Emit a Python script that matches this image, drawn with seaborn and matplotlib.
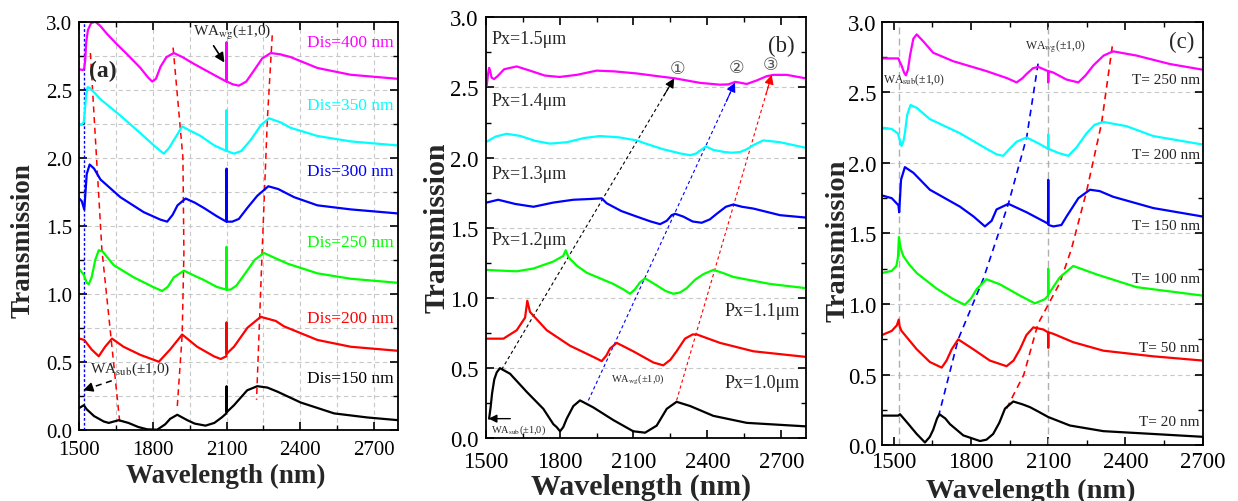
import numpy as np
import pandas as pd
import matplotlib
matplotlib.use("Agg")
import matplotlib.pyplot as plt
from matplotlib.ticker import MultipleLocator
import seaborn as sns

# ---------------- data: (wavelength nm, transmission) ----------------
# panel (a): distance sweep
a_dis400 = [(1500, 2.65), (1515, 2.645), (1520, 2.66), (1524, 2.72), (1528, 2.85), (1535, 2.94), (1548, 2.99),
            (1565, 3.0), (1585, 2.97), (1613, 2.91), (1650, 2.84), (1695, 2.76), (1749, 2.66), (1780, 2.59),
            (1797, 2.56), (1812, 2.58), (1831, 2.67), (1855, 2.74), (1885, 2.77), (1920, 2.74), (1967, 2.69),
            (2048, 2.61), (2099, 2.56), (2100, 2.85), (2101, 2.56), (2125, 2.54), (2150, 2.53), (2180, 2.56),
            (2211, 2.64), (2245, 2.73), (2280, 2.77), (2320, 2.76), (2361, 2.74), (2470, 2.66), (2606, 2.61),
            (2800, 2.58)]
a_dis350 = [(1500, 2.24), (1510, 2.245), (1518, 2.26), (1522, 2.34), (1527, 2.45), (1534, 2.52), (1545, 2.51),
            (1586, 2.43), (1667, 2.31), (1749, 2.18), (1810, 2.08), (1844, 2.03), (1865, 2.07), (1885, 2.13),
            (1919, 2.23), (1950, 2.20), (1994, 2.16), (2050, 2.09), (2099, 2.05), (2100, 2.35), (2101, 2.05),
            (2130, 2.03), (2160, 2.05), (2198, 2.13), (2240, 2.24), (2273, 2.29), (2320, 2.26), (2361, 2.22),
            (2470, 2.16), (2606, 2.12), (2800, 2.09)]
a_dis300 = [(1500, 1.70), (1510, 1.68), (1520, 1.62), (1524, 1.72), (1530, 1.88), (1542, 1.95), (1560, 1.92),
            (1586, 1.84), (1667, 1.71), (1762, 1.60), (1830, 1.545), (1858, 1.53), (1880, 1.58), (1900, 1.65),
            (1933, 1.70), (1970, 1.67), (2008, 1.63), (2060, 1.57), (2099, 1.53), (2100, 1.92), (2101, 1.53),
            (2123, 1.53), (2150, 1.55), (2184, 1.63), (2225, 1.72), (2270, 1.79), (2310, 1.77), (2375, 1.71),
            (2470, 1.65), (2606, 1.62), (2800, 1.59)]
a_dis250 = [(1500, 1.18), (1518, 1.14), (1530, 1.08), (1538, 1.07), (1550, 1.12), (1565, 1.25), (1579, 1.32),
            (1595, 1.31), (1640, 1.21), (1722, 1.12), (1800, 1.05), (1837, 1.02), (1860, 1.05), (1885, 1.12),
            (1926, 1.17), (1960, 1.14), (2008, 1.10), (2060, 1.05), (2099, 1.03), (2100, 1.345), (2101, 1.03),
            (2116, 1.03), (2140, 1.06), (2180, 1.16), (2215, 1.25), (2252, 1.30), (2300, 1.26), (2350, 1.22),
            (2470, 1.15), (2606, 1.11), (2800, 1.08)]
a_dis200 = [(1500, 0.67), (1520, 0.66), (1550, 0.59), (1579, 0.54), (1605, 0.61), (1633, 0.67), (1680, 0.61),
            (1749, 0.55), (1824, 0.50), (1870, 0.59), (1919, 0.70), (1980, 0.61), (2048, 0.54), (2076, 0.52),
            (2099, 0.54), (2100, 0.79), (2101, 0.56), (2130, 0.61), (2185, 0.75), (2239, 0.83), (2300, 0.80),
            (2334, 0.76), (2470, 0.66), (2606, 0.61), (2800, 0.58)]
a_dis150 = [(1500, 0.16), (1518, 0.18), (1530, 0.15), (1560, 0.10), (1600, 0.06), (1620, 0.05), (1640, 0.06),
            (1660, 0.07), (1700, 0.05), (1740, 0.02), (1776, 0.003), (1817, 0.0), (1850, 0.04), (1870, 0.08),
            (1899, 0.11), (1940, 0.07), (1970, 0.045), (2014, 0.03), (2050, 0.05), (2080, 0.09), (2099, 0.12),
            (2100, 0.32), (2101, 0.13), (2130, 0.18), (2184, 0.29), (2225, 0.32), (2266, 0.31), (2307, 0.28),
            (2402, 0.20), (2538, 0.12), (2674, 0.09), (2800, 0.07)]
a_labels = ["Dis=400 nm", "Dis=350 nm", "Dis=300 nm", "Dis=250 nm", "Dis=200 nm", "Dis=150 nm"]
a_label_y = [2.85, 2.385, 1.90, 1.38, 0.82, 0.38]
a_guides = [[(1545, 2.77), (1592, 1.32), (1665, 0.05)],
            [(1882, 2.81), (1922, 2.0), (1926, 1.3), (1919, 0.70), (1899, 0.17)],
            [(2286, 2.90), (2266, 2.28), (2245, 1.32), (2222, 0.22)]]

# panel (b): period sweep
b_px15 = [(1504, 2.51), (1510, 2.60), (1514, 2.64), (1518, 2.62), (1524, 2.57), (1534, 2.56), (1548, 2.58),
          (1575, 2.63), (1626, 2.65), (1680, 2.62), (1740, 2.585), (1800, 2.575), (1870, 2.59), (1950, 2.62),
          (2020, 2.615), (2113, 2.60), (2200, 2.58), (2269, 2.565), (2370, 2.533), (2450, 2.52), (2485, 2.522),
          (2505, 2.535), (2512, 2.54), (2530, 2.535), (2560, 2.525), (2600, 2.55), (2640, 2.58), (2668, 2.59),
          (2722, 2.59), (2800, 2.565)]
b_px14 = [(1500, 2.11), (1540, 2.15), (1585, 2.17), (1640, 2.155), (1700, 2.12), (1761, 2.10), (1830, 2.11),
          (1900, 2.14), (1964, 2.154), (2040, 2.145), (2113, 2.123), (2150, 2.10), (2220, 2.06), (2290, 2.03),
          (2330, 2.017), (2355, 2.03), (2370, 2.05), (2394, 2.08), (2424, 2.055), (2470, 2.04), (2500, 2.035),
          (2532, 2.04), (2560, 2.06), (2587, 2.09), (2627, 2.123), (2695, 2.11), (2800, 2.07)]
b_px13 = [(1504, 1.68), (1551, 1.70), (1620, 1.67), (1694, 1.65), (1775, 1.68), (1856, 1.70), (1920, 1.705),
          (1971, 1.71), (1991, 1.675), (2050, 1.62), (2113, 1.58), (2170, 1.545), (2208, 1.526), (2235, 1.55),
          (2255, 1.59), (2269, 1.60), (2302, 1.58), (2340, 1.545), (2377, 1.536), (2410, 1.56), (2438, 1.60),
          (2475, 1.65), (2505, 1.666), (2540, 1.65), (2587, 1.637), (2695, 1.59), (2800, 1.573)]
b_px12 = [(1504, 1.20), (1560, 1.195), (1626, 1.19), (1694, 1.21), (1775, 1.26), (1815, 1.30), (1825, 1.34),
          (1836, 1.29), (1870, 1.23), (1910, 1.18), (2018, 1.10), (2060, 1.06), (2086, 1.03), (2105, 1.06),
          (2126, 1.11), (2147, 1.14), (2194, 1.09), (2230, 1.05), (2262, 1.03), (2290, 1.04), (2316, 1.07),
          (2350, 1.13), (2384, 1.17), (2424, 1.20), (2460, 1.18), (2505, 1.15), (2654, 1.10), (2800, 1.07)]
b_px11 = [(1504, 0.71), (1572, 0.71), (1626, 0.77), (1660, 0.86), (1669, 0.98), (1680, 0.90), (1748, 0.77),
          (1842, 0.66), (1937, 0.58), (1971, 0.55), (1990, 0.59), (2005, 0.64), (2032, 0.68), (2099, 0.62),
          (2181, 0.54), (2221, 0.52), (2250, 0.56), (2275, 0.62), (2309, 0.71), (2340, 0.74), (2357, 0.74),
          (2451, 0.68), (2587, 0.62), (2800, 0.58)]
b_px10 = [(1514, 0.14), (1520, 0.22), (1526, 0.32), (1535, 0.42), (1545, 0.47), (1558, 0.50), (1599, 0.46),
          (1667, 0.33), (1734, 0.21), (1775, 0.10), (1788, 0.08), (1802, 0.05), (1815, 0.08), (1829, 0.14),
          (1856, 0.23), (1883, 0.27), (1937, 0.22), (2018, 0.13), (2099, 0.05), (2147, 0.04), (2194, 0.09),
          (2235, 0.21), (2275, 0.26), (2330, 0.23), (2424, 0.16), (2560, 0.11), (2800, 0.085)]
b_labels = ["Px=1.5\u03bcm", "Px=1.4\u03bcm", "Px=1.3\u03bcm", "Px=1.2\u03bcm", "Px=1.1\u03bcm", "Px=1.0\u03bcm"]
b_label_y = [2.85, 2.41, 1.89, 1.42, 0.91, 0.40]
b_guides = [[(1565, 0.49), (2265, 2.565)], [(1917, 0.27), (2512, 2.535)], [(2275, 0.27), (2661, 2.59)]]
b_marks = ["\u2460", "\u2461", "\u2462"]
b_mark_pos = [(2280, 2.64), (2518, 2.643), (2656, 2.67)]

# panel (c): thickness sweep
c_t250 = [(1453, 2.74), (1518, 2.74), (1522, 2.72), (1530, 2.69), (1540, 2.64), (1547, 2.62), (1555, 2.66),
          (1563, 2.76), (1576, 2.88), (1589, 2.91), (1615, 2.86), (1653, 2.78), (1731, 2.72), (1860, 2.65),
          (1940, 2.60), (1977, 2.57), (2000, 2.60), (2016, 2.63), (2040, 2.67), (2061, 2.68), (2099, 2.65),
          (2100, 2.57), (2101, 2.65), (2119, 2.64), (2171, 2.59), (2217, 2.57), (2245, 2.62), (2275, 2.69),
          (2315, 2.76), (2352, 2.79), (2443, 2.76), (2573, 2.70), (2700, 2.66)]
c_t200 = [(1453, 2.25), (1492, 2.24), (1515, 2.21), (1522, 2.17), (1530, 2.12), (1537, 2.15), (1543, 2.21),
          (1552, 2.34), (1565, 2.41), (1589, 2.39), (1640, 2.31), (1757, 2.21), (1860, 2.10), (1900, 2.06),
          (1925, 2.05), (1950, 2.10), (1977, 2.15), (2016, 2.18), (2060, 2.14), (2099, 2.10), (2100, 2.20),
          (2101, 2.10), (2140, 2.07), (2178, 2.05), (2210, 2.11), (2249, 2.21), (2280, 2.27), (2314, 2.29),
          (2404, 2.26), (2508, 2.19), (2700, 2.13)]
c_t150 = [(1453, 1.77), (1492, 1.75), (1518, 1.70), (1521, 1.65), (1528, 1.88), (1543, 1.97), (1576, 1.93),
          (1640, 1.81), (1757, 1.69), (1810, 1.62), (1854, 1.55), (1880, 1.59), (1899, 1.67), (1945, 1.71),
          (2016, 1.65), (2099, 1.57), (2100, 1.88), (2101, 1.56), (2120, 1.55), (2151, 1.56), (2171, 1.62),
          (2217, 1.75), (2262, 1.81), (2300, 1.80), (2352, 1.76), (2508, 1.68), (2700, 1.62)]
c_t100 = [(1453, 1.22), (1492, 1.235), (1510, 1.27), (1516, 1.33), (1520, 1.475), (1526, 1.40), (1537, 1.34),
          (1560, 1.28), (1589, 1.22), (1666, 1.11), (1731, 1.035), (1776, 0.995), (1800, 1.04), (1822, 1.106),
          (1860, 1.176), (1912, 1.14), (1990, 1.06), (2048, 1.005), (2087, 1.035), (2099, 1.06), (2100, 1.25),
          (2101, 1.07), (2119, 1.12), (2145, 1.19), (2197, 1.27), (2288, 1.21), (2443, 1.12), (2700, 1.06)]
c_t50 = [(1453, 0.78), (1492, 0.81), (1512, 0.85), (1519, 0.89), (1523, 0.84), (1530, 0.81), (1589, 0.68),
         (1640, 0.59), (1686, 0.55), (1705, 0.60), (1725, 0.68), (1750, 0.75), (1809, 0.68), (1873, 0.60),
         (1938, 0.56), (1965, 0.60), (1990, 0.68), (2015, 0.78), (2042, 0.835), (2081, 0.82), (2099, 0.80),
         (2100, 0.69), (2101, 0.80), (2119, 0.79), (2197, 0.73), (2314, 0.67), (2508, 0.63), (2700, 0.60)]
c_t20 = [(1453, 0.21), (1517, 0.21), (1524, 0.22), (1550, 0.165), (1589, 0.08), (1621, 0.02), (1640, 0.06),
         (1653, 0.11), (1668, 0.19), (1677, 0.22), (1700, 0.19), (1718, 0.15), (1770, 0.07), (1835, 0.03),
         (1860, 0.04), (1886, 0.08), (1910, 0.16), (1932, 0.26), (1964, 0.31), (2000, 0.29), (2029, 0.27),
         (2060, 0.24), (2100, 0.20), (2184, 0.14), (2314, 0.10), (2508, 0.08), (2700, 0.06)]
c_labels = ["T= 250 nm", "T= 200 nm", "T= 150 nm", "T= 100 nm", "T= 50 nm", "T= 20 nm"]
c_label_y = [2.59, 2.06, 1.56, 1.18, 0.69, 0.17]
c_guides = [[(1673, 0.20), (1750, 0.75), (1848, 1.18), (1945, 1.71), (2016, 2.18), (2061, 2.71)],
            [(1938, 0.26), (2005, 0.50), (2060, 0.86), (2145, 1.15), (2190, 1.39), (2249, 1.80),
             (2307, 2.28), (2349, 2.83)]]

colors = ["#ff00ff", "#00ffff", "#0000ff", "#00ff00", "#ff0000", "#000000"]

# ---------------- style ----------------
sns.set_theme(style="ticks")
plt.rcParams.update({
    "font.family": ["Liberation Serif", "DejaVu Serif"],
    "mathtext.fontset": "stix",
    "axes.linewidth": 1.3,
    "xtick.direction": "in",
    "ytick.direction": "in",
    "xtick.top": True,
    "ytick.right": True,
    "xtick.major.size": 6,
    "ytick.major.size": 6,
    "xtick.minor.size": 3.5,
    "ytick.minor.size": 3.5,
    "xtick.major.width": 1.2,
    "ytick.major.width": 1.2,
    "xtick.minor.width": 1.0,
    "ytick.minor.width": 1.0,
    "xtick.color": "black",
    "ytick.color": "black",
    "axes.edgecolor": "black",
})


def curves_frame(curves, labels):
    rows = []
    for pts, lab in zip(curves, labels):
        for wl, t in pts:
            rows.append((wl, t, lab))
    return pd.DataFrame(rows, columns=["wl", "T", "curve"])


def draw_curves(ax, curves, labels):
    df = curves_frame(curves, labels)
    sns.lineplot(data=df, x="wl", y="T", hue="curve", palette=dict(zip(labels, colors)),
                 estimator=None, sort=False, legend=False, linewidth=1.6, ax=ax)


def style_axes(ax, xlim, tick_size, label_size, ylab_xy, xlab_xy, xpad=5, ypad=5):
    ax.set_xlim(*xlim)
    ax.set_ylim(0, 3.0)
    ax.xaxis.set_major_locator(MultipleLocator(300))
    ax.xaxis.set_minor_locator(MultipleLocator(150))
    ax.yaxis.set_major_locator(MultipleLocator(0.5))
    ax.yaxis.set_minor_locator(MultipleLocator(0.25))
    ax.yaxis.set_major_formatter(plt.FormatStrFormatter("%.1f"))
    ax.tick_params(which="both", top=True, right=True, direction="in")
    ax.tick_params(axis="x", which="major", labelsize=tick_size, pad=xpad)
    ax.tick_params(axis="y", which="major", labelsize=tick_size, pad=ypad)
    ax.set_xlabel("Wavelength (nm)", fontsize=label_size, fontweight="bold")
    ax.set_ylabel("Transmission", fontsize=label_size, fontweight="bold")
    ax.xaxis.label.set_verticalalignment("center")
    ax.yaxis.label.set_verticalalignment("center")
    ax.yaxis.set_label_coords(*ylab_xy)
    ax.xaxis.set_label_coords(*xlab_xy)
    for s in ax.spines.values():
        s.set_linewidth(1.3)


fig = plt.figure(figsize=(12.38, 5.02), dpi=100)
ax_a = fig.add_axes([0.0641, 0.1420, 0.2577, 0.8127])
ax_b = fig.add_axes([0.3923, 0.1249, 0.2587, 0.8386])
ax_c = fig.add_axes([0.7122, 0.1110, 0.2593, 0.8438])

grid_kw = dict(color="#c8c8c8", linestyle=(0, (4, 3)), linewidth=0.8)

# ---------------- panel (a) ----------------
ax = ax_a
style_axes(ax, (1500, 2800), 15, 19.5, (-0.176, 0.465), (0.46, -0.113), xpad=7.6, ypad=5)
ax.grid(True, which="both", **grid_kw)
ax.set_axisbelow(True)
ax.axvline(1520, color="#0000ff", linestyle=(0, (2, 1.5)), linewidth=1.0)
for g in a_guides:
    gx, gy = zip(*g)
    ax.plot(gx, gy, color="#ff0000", linestyle=(0, (4, 3)), linewidth=1.1)
draw_curves(ax, [a_dis400, a_dis350, a_dis300, a_dis250, a_dis200, a_dis150], a_labels)
for lab, y, c in zip(a_labels, a_label_y, colors):
    ax.text(2780, y, lab, color=c, fontsize=12.5, ha="right", va="center")
ax.text(1597, 2.64, "(a)", fontsize=17, fontweight="bold", ha="center", va="center")
ax.text(2124, 2.93, "WA$_{\\rm wg}$(\u00b11,0)", fontsize=11, ha="center", va="center")
ax.annotate("", xy=(2091, 2.70), xytext=(2047, 2.823),
            arrowprops=dict(arrowstyle="-|>", color="black", lw=1.2, mutation_scale=14, shrinkA=0, shrinkB=0))
ax.text(1544, 0.454, "WA$_{\\rm sub}$(\u00b11,0)", fontsize=11, ha="left", va="center")
ax.plot([1632, 1540], [0.36, 0.305], color="black", linestyle=(0, (4, 3)), linewidth=1.1)
ax.annotate("", xy=(1516, 0.29), xytext=(1545, 0.308),
            arrowprops=dict(arrowstyle="-|>", color="black", lw=1.1, mutation_scale=14, shrinkA=0, shrinkB=0))

# ---------------- panel (b) ----------------
ax = ax_b
style_axes(ax, (1500, 2800), 16.5, 21.5, (-0.152, 0.503), (0.486, -0.1145), xpad=8.8, ypad=5)
ax.yaxis.grid(True, which="major", **grid_kw)
ax.set_axisbelow(True)
guide_cols = ["#000000", "#0000ff", "#ff0000"]
for g, c in zip(b_guides, guide_cols):
    (x0, y0), (x1, y1) = g
    ax.plot([x0, x1], [y0, y1], color=c, linestyle=(0, (3, 2.5)), linewidth=0.8)
    ax.annotate("", xy=(x1, y1), xytext=(x1 - 0.06 * (x1 - x0), y1 - 0.06 * (y1 - y0)),
                arrowprops=dict(arrowstyle="-|>", color=c, lw=0.8, mutation_scale=14, shrinkA=0, shrinkB=0))
draw_curves(ax, [b_px15, b_px14, b_px13, b_px12, b_px11, b_px10], b_labels)
for lab, y in zip(b_labels[:4], b_label_y[:4]):
    ax.text(1524, y, lab, fontsize=13, ha="left", va="center")
for lab, y in zip(b_labels[4:], b_label_y[4:]):
    ax.text(2776, y, lab, fontsize=13, ha="right", va="center")
for m, (mx, my) in zip(b_marks, b_mark_pos):
    ax.text(mx, my, m, fontsize=12.5, color="#555555", ha="center", va="center",
            family=["DejaVu Sans", "Noto Sans CJK SC"])
ax.text(2702, 2.80, "(b)", fontsize=16.5, ha="center", va="center")
ax.text(2007, 0.43, "WA$_{\\rm wg}$(\u00b11,0)", fontsize=7.5, ha="left", va="center")
ax.text(1522, 0.067, "WA$_{\\rm sub}$(\u00b11,0)", fontsize=7.5, ha="left", va="center")
ax.annotate("", xy=(1512, 0.14), xytext=(1600, 0.14),
            arrowprops=dict(arrowstyle="-|>", color="black", lw=1.0, mutation_scale=12, shrinkA=0, shrinkB=0))

# ---------------- panel (c) ----------------
ax = ax_c
style_axes(ax, (1453, 2700), 16.5, 20.5, (-0.136, 0.485), (0.465, -0.106), xpad=4, ypad=4)
ax.yaxis.grid(True, which="major", **grid_kw)
ax.set_axisbelow(True)
for xv in (1520, 2100):
    ax.axvline(xv, color="#b0b0b0", linestyle=(0, (5, 3)), linewidth=1.0)
for g, c in zip(c_guides, ["#0000ff", "#ff0000"]):
    gx, gy = zip(*g)
    ax.plot(gx, gy, color=c, linestyle=(0, (4, 3)), linewidth=1.2)
draw_curves(ax, [c_t250, c_t200, c_t150, c_t100, c_t50, c_t20], c_labels)
for lab, y in zip(c_labels, c_label_y):
    ax.text(2689, y, lab, fontsize=11, ha="right", va="center")
ax.text(2618, 2.86, "(c)", fontsize=16.5, ha="center", va="center")
ax.text(2009, 2.83, "WA$_{\\rm wg}$(\u00b11,0)", fontsize=8.5, ha="left", va="center")
ax.text(1459, 2.59, "WA$_{\\rm sub}$(\u00b11,0)", fontsize=8.5, ha="left", va="center")

fig.savefig("out.png", dpi=100)
